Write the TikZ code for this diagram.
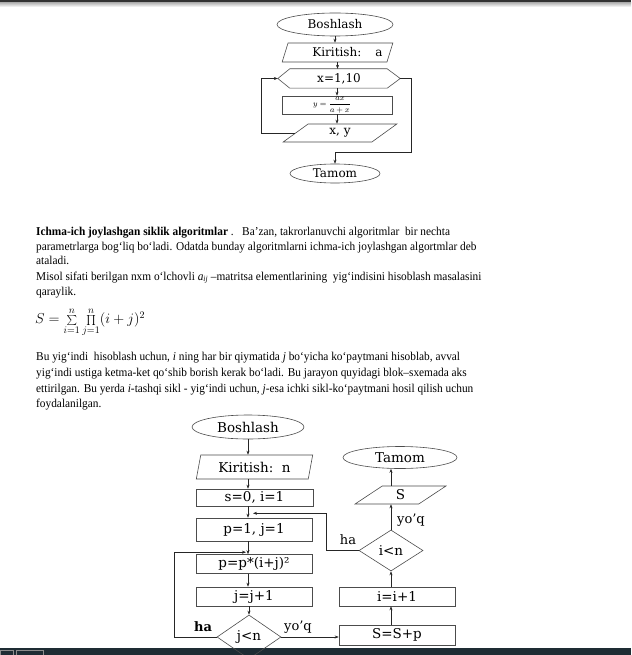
\documentclass[tikz,border=0pt]{standalone}
\usepackage{graphicx}
\usepackage{fontspec}
\setmainfont{Liberation Serif}
\newfontfamily\fcfont{DejaVu Serif}
\usetikzlibrary{shapes.geometric,arrows.meta,calc}
\definecolor{barcol}{HTML}{1E2C34}
\newcommand{\sq}[1]{\scalebox{0.945}[1]{#1}}
\begin{document}
\begin{tikzpicture}[x=1pt,y=-1pt,
  shp/.style={draw=black!70, line width=0.6pt, inner sep=0pt},
  fct/.style={font=\fcfont\fontsize{12}{14}\selectfont},
  fcb/.style={font=\fcfont\fontsize{13.5}{15}\selectfont},
  term/.style={shp, ellipse},
  io/.style={shp, trapezium, trapezium stretches=true},
  proc/.style={shp, rectangle},
  dec/.style={shp, diamond},
  arr/.style={draw=black!85, line width=0.5pt, -{Stealth[length=4pt,width=3pt]}},
  para/.style={anchor=base west, inner sep=0pt, font=\fontsize{12}{14}\selectfont},
  lbl/.style={inner sep=0pt, font=\fcfont\fontsize{13}{15}\selectfont}]
\useasboundingbox (0,0) rectangle (631,655);
\fill[white] (0,0) rectangle (631,655);
% window edges
\shade[top color=black!30, bottom color=white] (0,2.5) rectangle (631,7);
\fill[black!80] (0,0.5) rectangle (631,2.5);
\fill[barcol] (0,648) rectangle (631,655);
\draw[black!45, line width=0.6pt] (0.5,650) rectangle (13,655);
\draw[black!45, line width=0.6pt] (16,650) rectangle (43,655);

% ---------- top flowchart ----------
\node[term, fct, minimum width=116, minimum height=23] (b1) at (335,24.5) {Boshlash};
\node[io, fct, trapezium left angle=60, trapezium right angle=120, minimum width=111, minimum height=19] (k1) at (337.5,52.5) {\hspace*{20pt}Kiritish:\hspace{14pt}a};
\node[fct, inner sep=0pt, minimum width=122, minimum height=19] (h1) at (339,78.5) {x=1,10};
\draw[black!70, line width=0.6pt] (h1.west) -- ($(h1.north west)+(12,0)$) -- ($(h1.north east)+(-13,0)$) -- (h1.east) -- ($(h1.south east)+(-13,0)$) -- ($(h1.south west)+(12,0)$) -- cycle;
\node[proc, minimum width=110, minimum height=18, font=\fontsize{8.5}{9}\selectfont] (r1) at (337,105) {\hspace*{-10pt}$\displaystyle y=\frac{ax}{a+x}$};
\node[io, fct, trapezium left angle=47, trapezium right angle=133, minimum width=114, minimum height=18] (o1) at (340,133) {x, y};
\node[term, fct, minimum width=90, minimum height=19] (t1) at (335,173.5) {Tamom};
\coordinate (L1) at (261,0);
\coordinate (R1) at (411,152);
\draw[arr] (b1.south) -- (k1.north -| b1.south);
\draw[arr] (k1.south) -- (h1.north -| k1.south);
\draw[arr] (r1.north |- h1.south) -- (r1.north);
\draw[arr] (r1.south) -- (o1.north -| r1.south);
\draw[arr] (o1.west) -- (o1.west -| L1) |- (h1.west);
\draw[arr] (h1.east) -| (R1) -| (t1.north);

% ---------- text ----------
\node[para] (l1) at (36,235) {\sq{\textbf{Ichma-ich joylashgan siklik algoritmlar} .\ \ \ Ba’zan, takrorlanuvchi algoritmlar\ \ bir nechta}};
\node[para] (l2) at (36,250) {\sq{parametrlarga bog‘liq bo‘ladi. Odatda bunday algoritmlarni ichma-ich joylashgan algortmlar deb}};
\node[para] (l3) at (36,264.5) {\sq{ataladi.}};
\node[para] (l4) at (36,280) {\sq{Misol sifati berilgan nxm o‘lchovli {\itshape a\textsubscript{ij}} –matritsa elementlarining\ \ yig‘indisini hisoblash masalasini}};
\node[para] (l5) at (36,295) {\sq{qaraylik.}};
\node[anchor=west, inner sep=0pt, font=\fontsize{14}{16}\selectfont] (frm) at (35,322) {$S=\sum\limits_{i=1}^{n}\prod\limits_{j=1}^{n}(i+j)^2$};
\node[para] (l6) at (36,360.5) {\sq{Bu yig‘indi\ \ hisoblash uchun, \textit{i} ning har bir qiymatida \textit{j} bo‘yicha ko‘paytmani hisoblab, avval}};
\node[para] (l7) at (36,376.5) {\sq{yig‘indi ustiga ketma-ket qo‘shib borish kerak bo‘ladi. Bu jarayon quyidagi blok–sxemada aks}};
\node[para] (l8) at (36,392.5) {\sq{ettirilgan. Bu yerda \textit{i}-tashqi sikl - yig‘indi uchun, \textit{j}-esa ichki sikl-ko‘paytmani hosil qilish uchun}};
\node[para] (l9) at (36,407.5) {\sq{foydalanilgan.}};

% ---------- bottom flowchart ----------
\node[term, fcb, minimum width=112, minimum height=24] (b2) at (248,427) {Boshlash};
\node[io, fcb, trapezium left angle=74, trapezium right angle=106, minimum width=117, minimum height=24] (k2) at (254.5,467) {Kiritish:\ \ n};
\node[proc, fcb, minimum width=117, minimum height=17] (s2) at (254.5,497.5) {s=0, i=1};
\node[proc, fcb, minimum width=116, minimum height=23] (p2) at (254,529.5) {p=1, j=1};
\node[proc, fcb, minimum width=116, minimum height=19] (pp) at (254,564) {p=p*(i+j)²};
\node[proc, fcb, minimum width=116, minimum height=19] (jj) at (254,596.5) {j=j+1};
\node[dec, fcb, minimum width=64, minimum height=44] (d1) at (249,637) {j<n};
\node[proc, fcb, minimum width=116, minimum height=20] (ss) at (397,635) {S=S+p};
\node[proc, fcb, minimum width=116, minimum height=19] (ii) at (397,596.5) {i=i+1};
\node[dec, fcb, minimum width=64, minimum height=41] (d2) at (391,550.5) {i<n};
\node[io, fcb, trapezium left angle=56, trapezium right angle=124, minimum width=91, minimum height=18] (sp) at (400.5,495) {S};
\node[term, fcb, minimum width=114, minimum height=22] (t2) at (400,457.5) {Tamom};

\node[lbl, font=\fcfont\bfseries\fontsize{13}{15}\selectfont] (ha1) at (203,627) {ha};
\node[lbl] (yq1) at (298,627) {yo’q};
\node[lbl] (ha2) at (348,540) {ha};
\node[lbl] (yq2) at (411,520) {yo’q};

\coordinate (JL) at (174,0);
\coordinate (RL) at (326,0);
\coordinate (jin) at ($(pp.north -| b2.south)+(-2,-2)$);
\coordinate (sin) at ($(s2.south -| b2.south)+(5,7)$);
\draw[arr] (b2.south) -- (k2.north -| b2.south);
\draw[arr] (k2.south -| b2.south) -- (s2.north -| b2.south);
\draw[arr] (s2.south -| b2.south) -- (p2.north -| b2.south);
\draw[arr] (p2.south -| b2.south) -- (pp.north -| b2.south);
\draw[arr] (pp.south -| b2.south) -- (jj.north -| b2.south);
\draw[arr] (jj.south -| d1.north) -- (d1.north);
\draw[arr] (d1.west) -- (d1.west -| JL) |- (jin);
\draw[arr] (d1.east) -- (ss.west |- d1.east);
\draw[arr] (ss.north -| d2.south) -- (ii.south -| d2.south);
\draw[arr] (ii.north -| d2.south) -- (d2.south);
\draw[arr] (d2.west) -- (d2.west -| RL) |- (sin);
\draw[arr] (d2.north) -- (sp.south -| d2.north);
\draw[arr] (sp.north -| d2.north) -- (t2.south -| d2.north);
\end{tikzpicture}
\end{document}
